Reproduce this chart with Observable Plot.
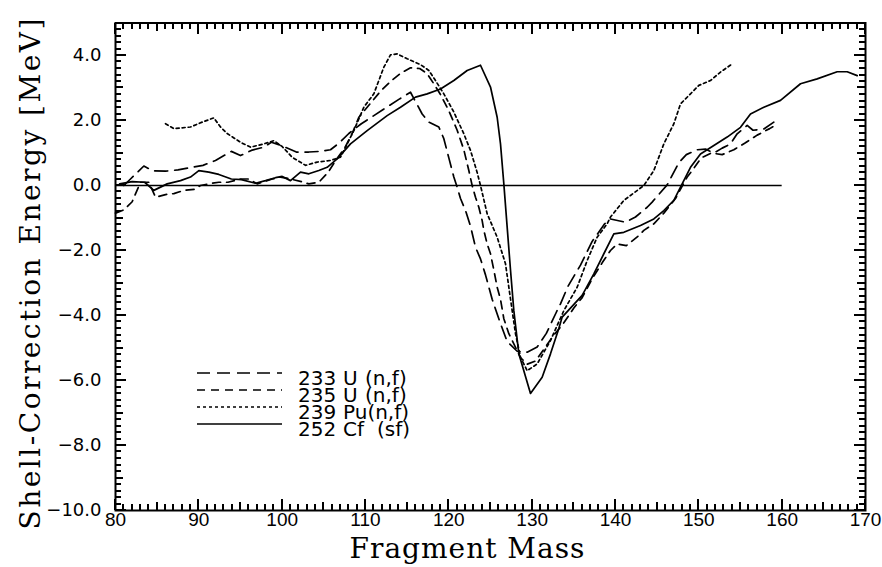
<!DOCTYPE html>
<html>
<head>
<meta charset="utf-8">
<script src="https://cdn.jsdelivr.net/npm/d3@7"></script>
<script src="https://cdn.jsdelivr.net/npm/@observablehq/plot@0.6"></script>
<style>
  html, body { margin: 0; padding: 0; background: #fff; }
  #wrap { position: relative; width: 882px; height: 567px; }
</style>
</head>
<body>
<div id="wrap"></div>
<script>
// ---------------- data (fragment mass, shell-correction energy in MeV) ----------------
const u233 = [
  [81,0.0],[81.8,0.2],[83.4,0.6],[84.5,0.45],[86,0.44],[87.5,0.48],[89,0.55],[90.5,0.62],[92,0.77],
  [93.9,1.05],[95,0.92],[96.3,1.08],[97.8,1.18],[98.7,1.33],[99.9,1.23],[101.7,1.03],[103.2,1.03],
  [104.6,1.05],[105.8,1.1],[106.8,1.3],[108,1.6],[109.5,1.9],[111,2.15],[112.5,2.4],[114,2.65],
  [115.4,2.87],[116.8,2.2],[117.6,1.95],[118.8,1.8],[119.4,1.44],[120,0.85],[120.6,0.26],[121,-0.05],
  [121.4,-0.4],[122,-0.77],[122.6,-1.25],[123.2,-1.9],[123.8,-2.26],[124.4,-2.75],[125.2,-3.5],
  [126.2,-4.25],[127,-4.8],[128.2,-5.1],[129.4,-5.13],[130.6,-4.97],[131.7,-4.55],[132.9,-3.9],
  [133.4,-3.64],[134.3,-3.1],[135.8,-2.45],[137.2,-1.72],[138.7,-1.18],[139.4,-1.03],[141.2,-1.13],
  [142.4,-0.97],[143.8,-0.67],[144.4,-0.51],[146.2,0.02],[147.6,0.7],[148.5,0.95],[149.8,1.1],
  [150.8,1.12],[151.8,1.0],[152.8,1.15],[153.8,1.28],[154.6,1.59],[155.8,1.85],[156.5,1.7],
  [157.8,1.74],[159,1.95]
];
const u235 = [
  [80,-0.85],[81,-0.75],[82,-0.5],[83,0.1],[84,0.1],[84.8,-0.36],[86,-0.28],[87,-0.25],[88.2,-0.15],
  [89.5,-0.12],[90.2,0],[91.6,0.07],[92.4,0.1],[93.5,0.1],[95,0.2],[96,0.2],[97,0.05],[98.8,0.2],
  [99.8,0.26],[101,0.2],[102.3,0.12],[103.2,0.05],[104.4,0.1],[105.5,0.4],[106.5,0.8],[107.5,1.15],
  [108.4,1.6],[109.2,2.1],[110.5,2.5],[111.8,2.9],[113,3.2],[114.2,3.45],[115.4,3.62],[116.5,3.6],
  [117.4,3.44],[118.2,3.13],[119,2.8],[120,2.3],[121,1.7],[121.8,1.1],[122.4,0.46],[122.8,0],
  [123.2,-0.36],[123.6,-0.67],[124,-1.08],[124.2,-1.38],[124.6,-1.8],[125,-2.1],[125.4,-2.6],
  [125.8,-3.13],[126.2,-3.5],[126.6,-4.1],[127.2,-4.56],[127.8,-4.87],[128.6,-5.3],[129.4,-5.5],
  [130.4,-5.4],[131.5,-5.0],[132.6,-4.6],[133.6,-4.3],[135,-3.77],[136,-3.45],[137.2,-2.87],
  [138.4,-2.38],[139.4,-2.0],[140.2,-1.8],[141.3,-1.85],[142.8,-1.54],[143.4,-1.38],[144.6,-1.18],
  [145.8,-0.85],[147.2,-0.4],[148.6,0.26],[149.2,0.46],[150.3,0.85],[151.5,1.0],[152.8,0.95],
  [154.2,1.1],[155.5,1.3],[157,1.55],[158.5,1.75],[159.5,1.9]
];
const pu239 = [
  [86,1.9],[87,1.75],[89,1.8],[90.4,1.95],[91.8,2.08],[92.6,1.8],[93.4,1.6],[95,1.33],[96.2,1.18],
  [97.8,1.28],[99,1.38],[100,1.2],[101.2,0.87],[102.8,0.62],[104.2,0.72],[105.8,0.77],[107,0.87],
  [107.8,1.28],[108.6,1.69],[109.8,2.41],[111,2.82],[112.2,3.64],[113,4.02],[113.8,4.05],[115,3.9],
  [116.6,3.72],[117.6,3.54],[118.4,3.23],[119.4,2.82],[120.6,2.26],[121.8,1.59],[122.6,1.08],
  [123.4,0.4],[123.8,0],[124.6,-0.87],[125.8,-1.59],[126.8,-2.41],[127.2,-3.13],[127.6,-3.85],
  [128,-4.56],[128.6,-5.28],[129.4,-5.7],[130.6,-5.49],[132.2,-4.77],[133.8,-3.85],[135.4,-3.13],
  [136.6,-2.31],[137.8,-1.59],[139,-1.18],[139.4,-0.97],[141,-0.46],[143.4,0],[144.6,0.46],
  [145.8,1.28],[147,1.9],[147.8,2.51],[149,2.82],[150,3.08],[151.4,3.23],[152.6,3.49],[154,3.74]
];
const cf252 = [
  [80.5,0.05],[82,0.12],[83.5,0.1],[84.6,-0.15],[86.2,0.05],[87.8,0.15],[89,0.26],[90,0.46],
  [91.2,0.41],[92.4,0.34],[93.9,0.2],[95.1,0.18],[96.8,0.07],[98,0.15],[99.2,0.24],[100,0.28],
  [101,0.15],[102.2,0.41],[103.2,0.36],[104.4,0.46],[105.4,0.56],[106.6,0.82],[108.2,1.28],
  [110.2,1.69],[112.6,2.15],[114.2,2.41],[116,2.72],[117.4,2.82],[119,2.97],[120.6,3.23],
  [122.2,3.54],[123.8,3.7],[125,3.03],[125.8,2.1],[126.2,1.28],[126.6,0.05],[127,-1.28],
  [127.4,-2.6],[127.8,-3.85],[128.4,-5.18],[129.8,-6.4],[131.2,-5.9],[132.2,-5.18],[133.2,-4.4],
  [133.6,-4.05],[136,-3.38],[137.4,-2.72],[138.6,-2.1],[139.8,-1.49],[141,-1.44],[143,-1.23],
  [144.6,-1.03],[145.8,-0.77],[147,-0.46],[147.8,-0.05],[149,0.56],[150.2,0.97],[151.8,1.23],
  [153.4,1.49],[155,1.79],[156.2,2.2],[157.8,2.41],[159.8,2.62],[162.2,3.13],[164.2,3.28],
  [166.6,3.5],[167.8,3.5],[169,3.38]
];
const zeroLine = [{from: 80, to: 160, energy: 0}];

const xTickLabels = [80, 90, 100, 110, 120, 130, 140, 150, 160, 170];
const yTickLabels = [4, 2, 0, -2, -4, -6, -8, -10];
const legendIsotopes = ["233", "235", "239", "252"];
const legendElements = ["U", "U", "Pu", "Cf"];
const legendReactions = ["(n,f)", "(n,f)", "(n,f)", "(sf)"];
const xTitle = "Fragment Mass";
const yTitle = "Shell-Correction Energy [MeV]";

// ---------------- layout ----------------
const W = 882, H = 567;
const mL = 115, mR = 17, mT = 22.5, mB = 57;
const xDomain = [80, 170], yDomain = [-10, 5];

const xMinor = d3.range(80, 170.001, 1);
const xMid = d3.range(85, 170, 10);
const yMinor = d3.range(-10, 5.001, 0.2).map(v => +v.toFixed(1));
const yMid = [-9, -7, -5, -3, -1, 1, 3, 5];

const seriesStyles = [
  {data: u233, dash: "13,7"},
  {data: u235, dash: "8,6"},
  {data: pu239, dash: "3,3"},
  {data: cf252, dash: null}
];

const fmt = d => (d < 0 ? "\u2212" : "") + Math.abs(d).toFixed(1);

const plot = Plot.plot({
  width: W, height: H,
  marginLeft: mL, marginRight: mR, marginTop: mT, marginBottom: mB,
  style: {background: "white", color: "black", fontFamily: "'DejaVu Sans', sans-serif"},
  x: {domain: xDomain},
  y: {domain: yDomain},
  marks: [
    Plot.frame({stroke: "black", strokeWidth: 2}),
    Plot.ruleY(zeroLine, {y: "energy", x1: "from", x2: "to", stroke: "black", strokeWidth: 1.6}),
    ...seriesStyles.map(s => Plot.line(s.data, {
      x: d => d[0], y: d => d[1], stroke: "black", strokeWidth: 1.7,
      strokeDasharray: s.dash, curve: "linear"
    })),
    Plot.axisX(xTickLabels, {anchor: "bottom", tickSize: 0, tickPadding: 2, fontSize: 19,
      fontFamily: "'Liberation Sans', sans-serif", label: null}),
    Plot.axisY(yTickLabels, {anchor: "left", tickSize: 0, tickPadding: 14, fontSize: 18,
      fontFamily: "'DejaVu Sans', sans-serif", tickFormat: fmt, label: null}),
    Plot.text([xTitle], {frameAnchor: "bottom", textAnchor: "middle", lineAnchor: "middle",
      dx: -23, dy: 39, fontSize: 28, fontFamily: "'DejaVu Serif', serif", fill: "black"}),
    Plot.text([yTitle], {frameAnchor: "left", textAnchor: "middle", lineAnchor: "middle",
      rotate: -90, dx: -84, dy: 6, fontSize: 28, fontFamily: "'DejaVu Serif', serif", fill: "black"})
  ]
});
document.getElementById("wrap").appendChild(plot);
d3.select(plot).selectAll("text").each(function () {
  const s = this.textContent;
  if (s === xTitle) d3.select(this).style("letter-spacing", "1px");
  if (s === yTitle) d3.select(this).style("letter-spacing", "2.5px");
});

// ---------------- inward frame ticks on all four sides, placed through Plot's own scales ----------------
const sx = plot.scale("x"), sy = plot.scale("y");
const [px0, px1] = sx.range, [py0, py1] = sy.range; // py0 = bottom, py1 = top
const tg = d3.select(plot).append("g").attr("aria-label", "frame ticks")
  .attr("stroke", "black").attr("shape-rendering", "crispEdges");
const addX = (vals, len, sw) => vals.forEach(v => {
  const p = Math.round(sx.apply(v));
  tg.append("line").attr("x1", p).attr("x2", p).attr("y1", py0).attr("y2", py0 - len).attr("stroke-width", sw);
  tg.append("line").attr("x1", p).attr("x2", p).attr("y1", py1).attr("y2", py1 + len).attr("stroke-width", sw);
});
const addY = (vals, len, sw) => vals.forEach(v => {
  const p = Math.round(sy.apply(v));
  tg.append("line").attr("y1", p).attr("y2", p).attr("x1", px0).attr("x2", px0 + len).attr("stroke-width", sw);
  tg.append("line").attr("y1", p).attr("y2", p).attr("x1", px1).attr("x2", px1 - len).attr("stroke-width", sw);
});
addX(xMinor, 6, 2);
addX(xMid, 8, 2);
addX(xTickLabels, 11, 2);
addY(yMinor, 6, 2);
addY(yMid, 8, 2);
addY(yTickLabels, 11, 2);

// ---------------- legend (inside the frame, lower left) ----------------
const leg = d3.select(plot).append("g").attr("aria-label", "legend").attr("text-anchor", "start");
const rowY = i => 373 + i * 17;
const legFont = "'DejaVu Sans', sans-serif";
legendIsotopes.forEach((iso, i) => {
  const s = seriesStyles[i];
  leg.append("line")
    .attr("x1", 197).attr("x2", 282)
    .attr("y1", rowY(i)).attr("y2", rowY(i))
    .attr("stroke", "black").attr("stroke-width", 1.7)
    .attr("stroke-dasharray", s.dash);
  const base = rowY(i) + 12;
  leg.append("text").attr("x", 298).attr("y", base).attr("text-anchor", "start")
    .attr("font-family", legFont).attr("font-size", 20).text(iso);
  const el = leg.append("text").attr("x", 343).attr("y", base).attr("text-anchor", "start")
    .attr("font-family", legFont).attr("font-size", 20).text(legendElements[i]);
  const elEnd = 343 + el.node().getComputedTextLength();
  const rx = legendReactions[i] === "(sf)" ? elEnd + 13 : Math.max(365, elEnd);
  leg.append("text").attr("x", rx).attr("y", base).attr("text-anchor", "start")
    .attr("font-family", legFont).attr("font-size", 20).text(legendReactions[i]);
});
</script>
</body>
</html>
